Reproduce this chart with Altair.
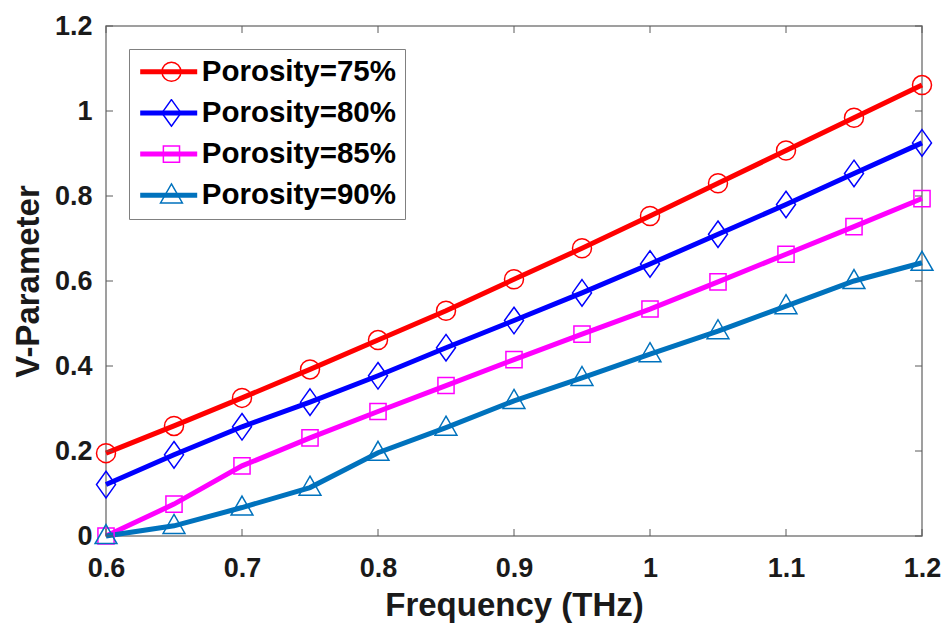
import altair as alt
import pandas as pd

# ---------------- data ----------------
freq = [0.6, 0.65, 0.7, 0.75, 0.8, 0.85, 0.9, 0.95, 1.0, 1.05, 1.1, 1.15, 1.2]
por75 = [0.195, 0.259, 0.325, 0.392, 0.461, 0.530, 0.604, 0.677, 0.753, 0.830, 0.907, 0.984, 1.061]
por80 = [0.121, 0.191, 0.257, 0.315, 0.377, 0.443, 0.507, 0.572, 0.640, 0.710, 0.780, 0.853, 0.925]
por85 = [0.0, 0.075, 0.165, 0.231, 0.293, 0.354, 0.415, 0.475, 0.534, 0.598, 0.663, 0.728, 0.794]
por90 = [0.0, 0.024, 0.067, 0.114, 0.196, 0.255, 0.318, 0.372, 0.428, 0.482, 0.541, 0.600, 0.643]

series_names = ["Porosity=75%", "Porosity=80%", "Porosity=85%", "Porosity=90%"]
x_ticks = [0.6, 0.7, 0.8, 0.9, 1.0, 1.1, 1.2]
y_ticks = [0.0, 0.2, 0.4, 0.6, 0.8, 1.0, 1.2]

# ---------------- styles ----------------
series_colors = ["#ff0000", "#0000ff", "#ff00ff", "#0072bd"]
marker_paths = [
    "circle",
    "M0,-1.4L1,0L0,1.4L-1,0Z",
    "M-0.85,-0.85L0.85,-0.85L0.85,0.85L-0.85,0.85Z",
    "M0,-1.2L1.15,0.8L-1.15,0.8Z",
]
FONT = "Liberation Sans"
W, H = 816, 510
TICK = 7
TICK_COLOR = "#5a5a5a"

rows = []
for name, vals in zip(series_names, [por75, por80, por85, por90]):
    for f, v in zip(freq, vals):
        rows.append({"freq": f, "v": v, "series": name})
df = pd.DataFrame(rows)

x_scale = alt.Scale(domain=[0.6, 1.2], nice=False, zero=False)
y_scale = alt.Scale(domain=[0, 1.2], nice=False, zero=False)

x_axis = alt.Axis(
    values=x_ticks, format="~g", title="Frequency (THz)",
    ticks=False, domain=False, grid=False, labelFlush=False,
    labelPadding=19, titleX=W / 2, titleY=79, titleBaseline="alphabetic",
    titleAnchor="middle", titleAlign="center",
)
y_axis = alt.Axis(
    values=y_ticks, format="~g", title="V-Parameter",
    ticks=False, domain=False, grid=False, labelFlush=False,
    labelPadding=14, titleX=-68, titleY=H / 2, titleBaseline="alphabetic",
    titleAngle=270, titleAlign="center",
)

legend_common = dict(
    title=None, orient="none", legendX=23, legendY=23,
    clipHeight=28, rowPadding=11.2, padding=8.7,
    labelFont=FONT, labelFontSize=29.5, labelFontWeight="bold",
    labelColor="#000000", labelLimit=500,
)

# line legend (thick stroke symbols, with box and labels)
lines = alt.Chart(df).mark_line(strokeWidth=5).encode(
    x=alt.X("freq:Q", scale=x_scale, axis=x_axis),
    y=alt.Y("v:Q", scale=y_scale, axis=y_axis),
    color=alt.Color(
        "series:N",
        scale=alt.Scale(domain=series_names, range=series_colors),
        legend=alt.Legend(
            symbolType="stroke", symbolSize=3249, symbolStrokeWidth=5,
            labelOffset=2, strokeColor="#808080", fillColor="white", zindex=0,
            **legend_common,
        ),
    ),
)

# marker legend (drawn on top of the line legend, no labels of its own)
marker_legend = alt.Legend(
    symbolSize=361, symbolStrokeWidth=1.5, symbolOffset=19,
    labelExpr="''", zindex=1, **legend_common,
)
points = alt.Chart(df).mark_point(filled=False, size=361, strokeWidth=1.5, opacity=1).encode(
    x=alt.X("freq:Q", scale=x_scale, axis=x_axis),
    y=alt.Y("v:Q", scale=y_scale, axis=y_axis),
    color=alt.Color("series:N", scale=alt.Scale(range=series_colors), legend=marker_legend),
    shape=alt.Shape("series:N", scale=alt.Scale(range=marker_paths), legend=marker_legend),
)

xt = pd.DataFrame({"t": x_ticks})
yt = pd.DataFrame({"t": y_ticks})
tick_mark = dict(color=TICK_COLOR, strokeWidth=1)
xb = alt.Chart(xt).mark_rule(**tick_mark).encode(
    x=alt.X("t:Q", scale=x_scale, axis=x_axis), y=alt.value(H), y2=alt.value(H - TICK))
xtop = alt.Chart(xt).mark_rule(**tick_mark).encode(
    x=alt.X("t:Q", scale=x_scale, axis=x_axis), y=alt.value(0), y2=alt.value(TICK))
yl = alt.Chart(yt).mark_rule(**tick_mark).encode(
    y=alt.Y("t:Q", scale=y_scale, axis=y_axis), x=alt.value(0), x2=alt.value(TICK))
yr = alt.Chart(yt).mark_rule(**tick_mark).encode(
    y=alt.Y("t:Q", scale=y_scale, axis=y_axis), x=alt.value(W), x2=alt.value(W - TICK))

chart = (
    alt.layer(lines, points, xb, xtop, yl, yr)
    .resolve_scale(color="independent", shape="independent")
    .properties(
        width=W, height=H,
        autosize=alt.AutoSizeParams(type="none"),
        padding={"left": 106, "top": 26, "right": 24, "bottom": 90},
        background="white",
    )
    .configure_view(stroke="#808080", strokeWidth=1.5)
    .configure_axis(
        labelFont=FONT, labelFontSize=27, labelFontWeight="bold", labelColor="#1a1a1a",
        titleFont=FONT, titleFontSize=33, titleFontWeight="bold", titleColor="#1a1a1a",
    )
)

chart.save("out.html", embed_options={"renderer": "svg", "actions": False})
